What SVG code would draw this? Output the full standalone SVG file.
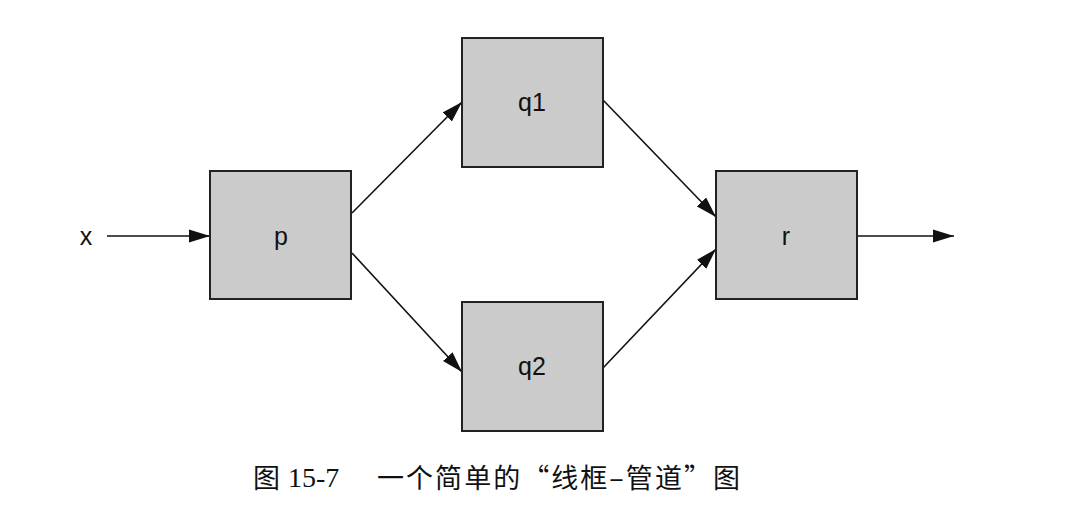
<svg xmlns="http://www.w3.org/2000/svg" width="1088" height="518" viewBox="0 0 1088 518">
<style>
.box{fill:#cbcbcb;stroke:#222;stroke-width:2}
.lbl{font-family:"Liberation Sans",Arial,sans-serif;font-size:25px;fill:#111;text-anchor:middle}
.edge{stroke:#111;stroke-width:1.6;fill:none;marker-end:url(#ah)}
.cap{font-family:"Liberation Serif","Noto Sans CJK SC",serif;font-size:28px;fill:#111}
.cjk{font-family:"Noto Sans CJK SC",sans-serif;font-size:27px;fill:#111}
</style>
<defs>
<marker id="ah" markerUnits="userSpaceOnUse" markerWidth="21" markerHeight="14" refX="21" refY="7" orient="auto">
<path d="M0,0.5 L21,7 L0,13.5 z" fill="#111"/>
</marker>
</defs>
<rect width="1088" height="518" fill="#fff"/>
<g id="connectors">
<line class="edge" x1="107" y1="236" x2="210" y2="236"/>
<line class="edge" x1="352" y1="213" x2="462" y2="102"/>
<line class="edge" x1="352" y1="253" x2="462" y2="372"/>
<line class="edge" x1="603" y1="100" x2="716" y2="217"/>
<line class="edge" x1="603" y1="368" x2="716" y2="249"/>
<line class="edge" x1="857" y1="236" x2="954" y2="236"/>
</g>
<g id="x"><text class="lbl" x="86" y="245">x</text></g>
<g id="p"><rect class="box" x="210" y="171" width="141" height="128"/><text class="lbl" x="281" y="245">p</text></g>
<g id="q1"><rect class="box" x="462" y="38" width="141" height="129"/><text class="lbl" x="532" y="111">q1</text></g>
<g id="q2"><rect class="box" x="462" y="302" width="141" height="129"/><text class="lbl" x="532" y="375">q2</text></g>
<g id="r"><rect class="box" x="716" y="171" width="141" height="128"/><text class="lbl" x="786" y="245">r</text></g>
<g id="caption">
<text class="cjk" x="253" y="488">图</text>
<text class="cap" x="288" y="487">15-7</text>
<text class="cjk" x="377" y="488" textLength="363" lengthAdjust="spacing">一个简单的“线框–管道”图</text>
</g>
</svg>
